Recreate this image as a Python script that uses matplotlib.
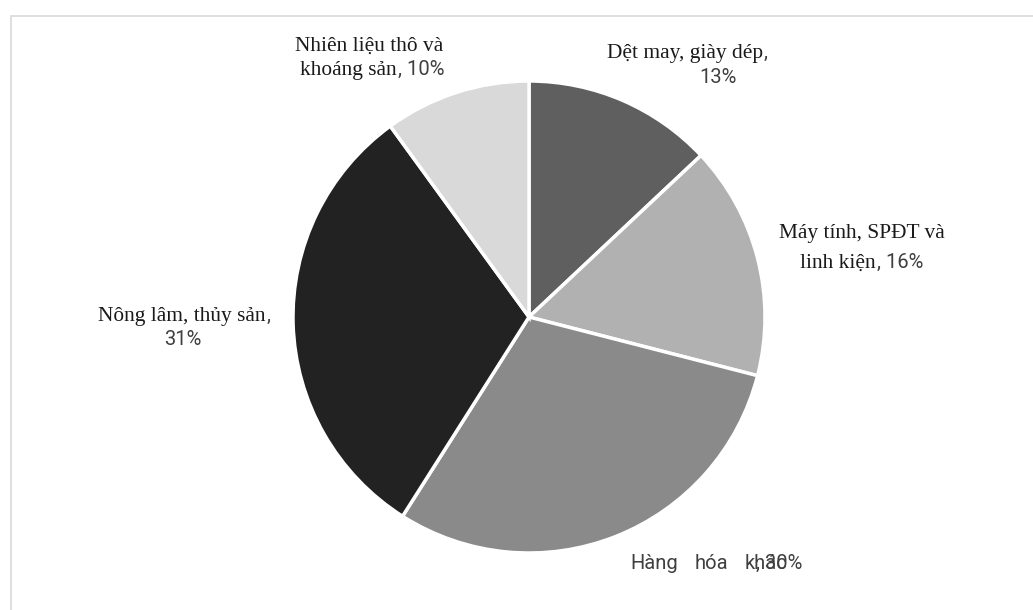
import matplotlib
matplotlib.use('Agg')
import matplotlib.pyplot as plt
from matplotlib.patches import Rectangle

W, H = 1033, 610

CATEGORIES = [
    'Dệt may, giày dép',
    'Máy tính, SPĐT và linh kiện',
    'Hàng hóa khác',
    'Nông lâm, thủy sản',
    'Nhiên liệu thô và khoáng sản',
]
SHARES = [13, 16, 30, 31, 10]
COLOURS = ['#5f5f5f', '#b1b1b1', '#8a8a8a', '#222222', '#d9d9d9']

SERIF = 'Liberation Serif'
SANS = 'Roboto'
SERIF_SIZE = 15.4
SANS_SIZE = 14.5
SERIF_COLOUR = '#1a1a1a'
SANS_COLOUR = '#404040'


def serif(ax, x, y, s, ha='left'):
    # x, y in pixels from the top left corner, y is the baseline
    return ax.text(x, H - y, s, family=SERIF, fontsize=SERIF_SIZE,
                   color=SERIF_COLOUR, ha=ha, va='baseline')


def sans(ax, x, y, s, ha='left'):
    return ax.text(x, H - y, s, family=SANS, fontsize=SANS_SIZE,
                   color=SANS_COLOUR, ha=ha, va='baseline')


fig = plt.figure(figsize=(W / 100, H / 100), dpi=100)
ax = fig.add_axes([0, 0, 1, 1])

ax.pie(SHARES, colors=COLOURS, startangle=90, counterclock=False,
       center=(529, H - 317), radius=236,
       wedgeprops=dict(edgecolor='white', linewidth=2.5))
ax.set_xlim(0, W)
ax.set_ylim(0, H)
ax.set_aspect('equal')
ax.axis('off')

# Light grey chart area border, running off the right and bottom edges
fig.patches.append(Rectangle((10.5 / W, -0.1), 1.2, (H - 15.5) / H + 0.1,
                             transform=fig.transFigure, fill=False,
                             edgecolor='#d9d9d9', linewidth=1.2))

pct = ['{0}%'.format(v) for v in SHARES]

# Dệt may, giày dép
serif(ax, 763, 58, CATEGORIES[0], ha='right')
sans(ax, 764, 58, ',')
sans(ax, 718, 83, pct[0], ha='center')

# Máy tính, SPĐT và linh kiện
serif(ax, 862, 238, 'Máy tính, SPĐT và', ha='center')
serif(ax, 876, 268, 'linh kiện', ha='right')
sans(ax, 877, 268, ', ' + pct[1])

# Hàng hóa khác (the value overlaps the name in the original)
for x, word in zip([630, 695, 745], CATEGORIES[2].split()):
    sans(ax, x, 569, word)
sans(ax, 756, 569, ', ' + pct[2])

# Nông lâm, thủy sản
serif(ax, 266, 321, CATEGORIES[3], ha='right')
sans(ax, 267, 321, ',')
sans(ax, 183, 345, pct[3], ha='center')

# Nhiên liệu thô và khoáng sản
serif(ax, 369, 51, 'Nhiên liệu thô và', ha='center')
serif(ax, 397, 75, 'khoáng sản', ha='right')
sans(ax, 398, 75, ', ' + pct[4])

fig.savefig('out.png', dpi=100)
